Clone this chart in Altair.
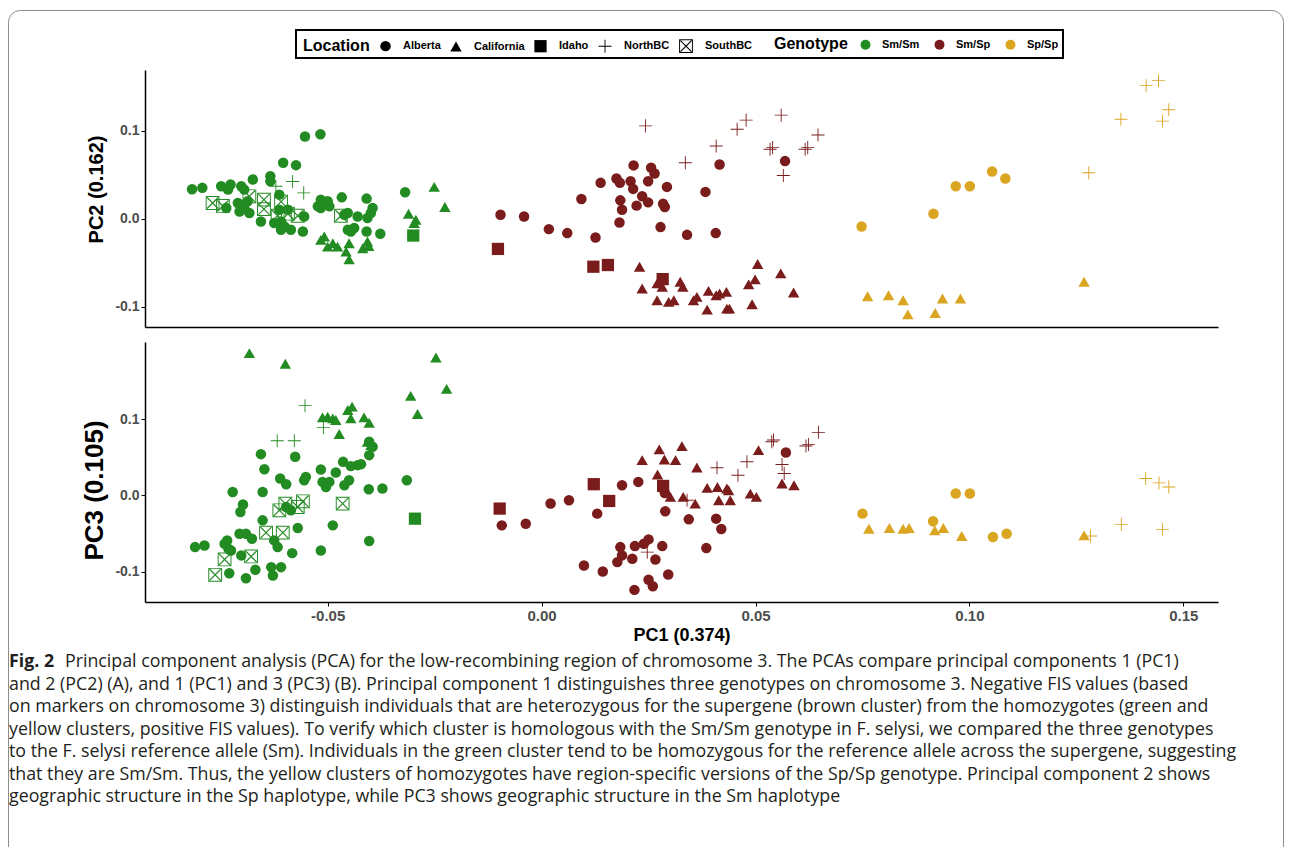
import altair as alt
import pandas as pd

# ---------------- categories ----------------
GENOTYPES = ["Sm/Sm", "Sm/Sp", "Sp/Sp"]
LOCATIONS = ["Alberta", "California", "Idaho", "NorthBC", "SouthBC"]

# ---------------- PC1 vs PC2 (panel A) ----------------
PC2_SMSM_ALBERTA = [(-0.0553, 0.0934), (-0.0517, 0.0960), (-0.0604, 0.0637), (-0.0574, 0.0609), (-0.0817, 0.0335),
                    (-0.0793, 0.0351), (-0.0675, 0.0446), (-0.0634, 0.0483), (-0.0634, 0.0426), (-0.0749, 0.0369),
                    (-0.0727, 0.0389), (-0.0702, 0.0369), (-0.0733, 0.0331), (-0.0695, 0.0331), (-0.0737, 0.0122),
                    (-0.0710, 0.0179), (-0.0687, 0.0198), (-0.0706, 0.0083), (-0.0683, 0.0065), (-0.0695, 0.0122),
                    (-0.0656, -0.0031), (-0.0625, -0.0049), (-0.0609, -0.0031), (-0.0601, -0.0088), (-0.0609, -0.0126),
                    (-0.0586, -0.0126), (-0.0613, 0.0274), (-0.0613, 0.0103), (-0.0593, 0.0103), (-0.0555, 0.0026),
                    (-0.0558, -0.0145), (-0.0516, 0.0217), (-0.0508, 0.0179), (-0.0500, 0.0198), (-0.0523, 0.0141),
                    (-0.0516, 0.0122), (-0.0496, 0.0141), (-0.0467, 0.0243), (-0.0461, 0.0046), (-0.0453, 0.0065),
                    (-0.0430, 0.0026), (-0.0409, 0.0229), (-0.0395, 0.0122), (-0.0399, 0.0065), (-0.0407, 0.0008),
                    (-0.0453, -0.0126), (-0.0438, -0.0106), (-0.0446, -0.0145), (-0.0409, -0.0145), (-0.0377, -0.0171),
                    (-0.0319, 0.0301)]
PC2_SMSM_CALIFORNIA = [(-0.0516, -0.0240), (-0.0508, -0.0202), (-0.0500, -0.0317), (-0.0488, -0.0278), (-0.0477, -0.0317),
                       (-0.0457, -0.0374), (-0.0450, -0.0278), (-0.0450, -0.0461), (-0.0418, -0.0335), (-0.0407, -0.0259),
                       (-0.0404, -0.0309), (-0.0251, 0.0362), (-0.0226, 0.0134), (-0.0311, 0.0057), (-0.0294, -0.0011),
                       (-0.0298, -0.0049)]
PC2_SMSM_IDAHO = [(-0.0300, -0.0191)]
PC2_SMSM_NORTHBC = [(-0.0621, 0.0369), (-0.0582, 0.0423), (-0.0556, 0.0294)]
PC2_SMSM_SOUTHBC = [(-0.0769, 0.0179), (-0.0745, 0.0145), (-0.0683, 0.0255), (-0.0649, 0.0217), (-0.0649, 0.0109),
                    (-0.0609, 0.0194), (-0.0617, 0.0034), (-0.0593, 0.0057), (-0.0570, 0.0034), (-0.0469, 0.0034)]

PC2_SMSP_ALBERTA = [(-0.0096, 0.0046), (-0.0041, 0.0026), (0.0017, -0.0118), (0.0060, -0.0163), (0.0126, -0.0214),
                    (0.0093, 0.0225), (0.0138, 0.0408), (0.0175, 0.0457), (0.0183, 0.0408), (0.0215, 0.0606),
                    (0.0208, 0.0426), (0.0214, 0.0339), (0.0184, 0.0209), (0.0188, 0.0103), (0.0182, -0.0042),
                    (0.0222, 0.0149), (0.0235, 0.0255), (0.0249, 0.0186), (0.0249, 0.0426), (0.0256, 0.0579),
                    (0.0264, 0.0514), (0.0293, 0.0362), (0.0284, 0.0171), (0.0288, 0.0134), (0.0278, -0.0095),
                    (0.0340, -0.0183), (0.0383, 0.0305), (0.0407, -0.0163), (0.0416, 0.0617), (0.0569, 0.0655)]
PC2_SMSP_CALIFORNIA = [(0.0229, -0.0545), (0.0235, -0.0792), (0.0270, -0.0735), (0.0282, -0.0773), (0.0270, -0.0926),
                       (0.0297, -0.0945), (0.0309, -0.0926), (0.0324, -0.0716), (0.0330, -0.0773), (0.0355, -0.0926),
                       (0.0363, -0.0888), (0.0387, -0.1032), (0.0390, -0.0819), (0.0408, -0.0869), (0.0416, -0.0849),
                       (0.0432, -0.0831), (0.0433, -0.1021), (0.0439, -0.1021), (0.0484, -0.0746), (0.0499, -0.0689),
                       (0.0505, -0.0514), (0.0492, -0.0971), (0.0559, -0.0621), (0.0589, -0.0838)]
PC2_SMSP_IDAHO = [(-0.0102, -0.0343), (0.0121, -0.0545), (0.0155, -0.0526), (0.0283, -0.0686)]
PC2_SMSP_NORTHBC = [(0.0243, 0.1055), (0.0336, 0.0637), (0.0408, 0.0826), (0.0457, 0.1017), (0.0478, 0.1120),
                    (0.0560, 0.1177), (0.0534, 0.0789), (0.0540, 0.0808), (0.0565, 0.0491), (0.0616, 0.0789),
                    (0.0622, 0.0808), (0.0646, 0.0952)]

PC2_SPSP_ALBERTA = [(0.0748, -0.0088), (0.0916, 0.0057), (0.0968, 0.0369), (0.1001, 0.0369), (0.1053, 0.0537),
                    (0.1084, 0.0457)]
PC2_SPSP_CALIFORNIA = [(0.0762, -0.0880), (0.0811, -0.0869), (0.0845, -0.0926), (0.0856, -0.1086), (0.0920, -0.1071),
                       (0.0937, -0.0906), (0.0979, -0.0906), (0.1268, -0.0716)]
PC2_SPSP_NORTHBC = [(0.1279, 0.0522), (0.1354, 0.1131), (0.1413, 0.1512), (0.1442, 0.1569), (0.1451, 0.1109),
                    (0.1466, 0.1238)]

# ---------------- PC1 vs PC3 (panel B) ----------------
PC3_SMSM_ALBERTA = [(-0.0810, -0.0680), (-0.0788, -0.0658), (-0.0741, -0.0636), (-0.0735, -0.0592), (-0.0732, -0.0701),
                    (-0.0726, -0.0724), (-0.0702, -0.0789), (-0.0730, -0.1022), (-0.0691, -0.1088), (-0.0669, -0.0978),
                    (-0.0632, -0.0943), (-0.0628, -0.1053), (-0.0609, -0.0943), (-0.0583, -0.0759), (-0.0706, -0.0504),
                    (-0.0691, -0.0504), (-0.0677, -0.0570), (-0.0652, -0.0329), (-0.0625, -0.0592), (-0.0617, -0.0680),
                    (-0.0698, -0.0122), (-0.0704, -0.0220), (-0.0722, 0.0043), (-0.0652, 0.0043), (-0.0656, 0.0539),
                    (-0.0648, 0.0342), (-0.0576, 0.0504), (-0.0611, 0.0220), (-0.0597, 0.0145), (-0.0555, 0.0197),
                    (-0.0551, 0.0241), (-0.0516, 0.0338), (-0.0481, 0.0299), (-0.0512, 0.0175), (-0.0504, 0.0109),
                    (-0.0496, 0.0175), (-0.0461, 0.0132), (-0.0450, 0.0197), (-0.0464, 0.0438), (-0.0446, 0.0382),
                    (-0.0430, 0.0395), (-0.0422, 0.0408), (-0.0403, 0.0526), (-0.0395, 0.0636), (-0.0403, 0.0701),
                    (-0.0404, 0.0079), (-0.0372, 0.0088), (-0.0315, 0.0197), (-0.0488, -0.0395), (-0.0570, -0.0430),
                    (-0.0403, -0.0601), (-0.0516, -0.0724), (-0.0586, -0.0197), (-0.0597, -0.0154)]
PC3_SMSM_CALIFORNIA = [(-0.0683, 0.1864), (-0.0599, 0.1724), (-0.0512, 0.1022), (-0.0500, 0.1030), (-0.0488, 0.1009),
                       (-0.0481, 0.0987), (-0.0453, 0.1118), (-0.0443, 0.1162), (-0.0446, 0.1009), (-0.0415, 0.1022),
                       (-0.0403, 0.0951), (-0.0473, 0.0803), (-0.0407, 0.0701), (-0.0399, 0.0658), (-0.0306, 0.1303),
                       (-0.0290, 0.1066), (-0.0247, 0.1807), (-0.0222, 0.1395)]
PC3_SMSM_IDAHO = [(-0.0296, -0.0307)]
PC3_SMSM_NORTHBC = [(-0.0553, 0.1175), (-0.0618, 0.0715), (-0.0578, 0.0715), (-0.0510, 0.0890)]
PC3_SMSM_SOUTHBC = [(-0.0558, -0.0079), (-0.0599, -0.0109), (-0.0613, -0.0197), (-0.0570, -0.0154), (-0.0465, -0.0109),
                    (-0.0644, -0.0491), (-0.0605, -0.0491), (-0.0741, -0.0842), (-0.0679, -0.0803), (-0.0763, -0.1043)]

PC3_SMSP_ALBERTA = [(-0.0093, -0.0395), (-0.0037, -0.0373), (0.0021, -0.0109), (0.0064, -0.0066), (0.0130, -0.0241),
                    (0.0188, 0.0132), (0.0226, 0.0175), (0.0289, -0.0211), (0.0344, -0.0316), (0.0408, -0.0307),
                    (0.0420, -0.0443), (0.0385, -0.0693), (0.0571, 0.0561), (0.0184, -0.0680), (0.0188, -0.0789),
                    (0.0177, -0.0877), (0.0212, -0.0833), (0.0218, -0.0667), (0.0239, -0.0636), (0.0250, -0.0579),
                    (0.0282, -0.0667), (0.0266, -0.0842), (0.0099, -0.0921), (0.0143, -0.1000), (0.0296, -0.1039),
                    (0.0250, -0.1109), (0.0260, -0.1193), (0.0217, -0.1241), (0.0288, 0.0030)]
PC3_SMSP_CALIFORNIA = [(0.0235, 0.0460), (0.0275, 0.0601), (0.0328, 0.0645), (0.0287, 0.0469), (0.0313, 0.0460),
                       (0.0271, 0.0272), (0.0363, 0.0364), (0.0301, -0.0022), (0.0331, -0.0022), (0.0359, -0.0109),
                       (0.0387, 0.0096), (0.0411, 0.0109), (0.0433, 0.0088), (0.0437, 0.0066), (0.0414, -0.0066),
                       (0.0441, -0.0066), (0.0488, 0.0022), (0.0502, -0.0022), (0.0507, 0.0592), (0.0562, 0.0154),
                       (0.0590, 0.0132)]
PC3_SMSP_IDAHO = [(-0.0098, -0.0175), (0.0122, 0.0145), (0.0158, -0.0075), (0.0284, 0.0122)]
PC3_SMSP_NORTHBC = [(0.0247, -0.0746), (0.0340, -0.0066), (0.0410, 0.0360), (0.0459, 0.0263), (0.0480, 0.0439),
                    (0.0538, 0.0701), (0.0542, 0.0724), (0.0562, 0.0404), (0.0567, 0.0285), (0.0618, 0.0645),
                    (0.0624, 0.0667), (0.0647, 0.0825)]

PC3_SPSP_ALBERTA = [(0.0750, -0.0241), (0.0915, -0.0342), (0.0968, 0.0022), (0.1001, 0.0022), (0.1055, -0.0548),
                    (0.1087, -0.0504)]
PC3_SPSP_CALIFORNIA = [(0.0765, -0.0439), (0.0813, -0.0430), (0.0845, -0.0439), (0.0859, -0.0430), (0.0919, -0.0461),
                       (0.0939, -0.0430), (0.0982, -0.0535), (0.1268, -0.0526)]
PC3_SPSP_NORTHBC = [(0.1283, -0.0535), (0.1355, -0.0382), (0.1412, 0.0220), (0.1443, 0.0162), (0.1466, 0.0109),
                    (0.1451, -0.0447)]

# ---------------- text ----------------
X_TICKS = [-0.05, 0.0, 0.05, 0.10, 0.15]
Y_TICKS = [-0.1, 0.0, 0.1]
CAPTION_LEAD = "Fig. 2"
CAPTION_FIRST = "Principal component analysis (PCA) for the low-recombining region of chromosome 3. The PCAs compare principal components 1 (PC1)"
CAPTION_REST = [
    "and 2 (PC2) (A), and 1 (PC1) and 3 (PC3) (B). Principal component 1 distinguishes three genotypes on chromosome 3. Negative FIS values (based",
    "on markers on chromosome 3) distinguish individuals that are heterozygous for the supergene (brown cluster) from the homozygotes (green and",
    "yellow clusters, positive FIS values). To verify which cluster is homologous with the Sm/Sm genotype in F. selysi, we compared the three genotypes",
    "to the F. selysi reference allele (Sm). Individuals in the green cluster tend to be homozygous for the reference allele across the supergene, suggesting",
    "that they are Sm/Sm. Thus, the yellow clusters of homozygotes have region-specific versions of the Sp/Sp genotype. Principal component 2 shows",
    "geographic structure in the Sp haplotype, while PC3 shows geographic structure in the Sm haplotype",
]

# ---------------- styles ----------------
FONT = "Liberation Sans"
CAP_FONT = "Open Sans"
GENO_COLORS = ["#228B22", "#7A1C1C", "#DAA520"]
PLUS = "M-1,-0.07L1,-0.07L1,0.07L-1,0.07Z M-0.07,-1L0.07,-1L0.07,1L-0.07,1Z"
BOXX = ("M-1,-1L1,-1L1,1L-1,1Z M-0.86,-0.86L-0.86,0.86L0.86,0.86L0.86,-0.86Z "
        "M-0.86,-0.74L-0.74,-0.86L0.86,0.74L0.74,0.86Z M0.74,-0.86L0.86,-0.74L-0.74,0.86L-0.86,0.74Z")
SHAPES = ["circle", "triangle-up", "square", PLUS, BOXX]
SIZES = [110, 190, 115, 230, 115]
MINUS_FIX = "replace(datum.label, '\u2212', '-')"

X_DOMAIN = [-0.0927, 0.1581]
PC2_DOMAIN = [-0.123, 0.169]
PC3_DOMAIN = [-0.140, 0.201]
W = 1073


def to_frame(groups, col):
    rows = []
    for geno, loc, pts in groups:
        for x, y in pts:
            rows.append({"PC1": x, col: y, "Genotype": geno, "Location": loc})
    return pd.DataFrame(rows)


pc2_df = to_frame([
    ("Sm/Sm", "Alberta", PC2_SMSM_ALBERTA), ("Sm/Sm", "California", PC2_SMSM_CALIFORNIA),
    ("Sm/Sm", "Idaho", PC2_SMSM_IDAHO), ("Sm/Sm", "SouthBC", PC2_SMSM_SOUTHBC), ("Sm/Sm", "NorthBC", PC2_SMSM_NORTHBC),
    ("Sm/Sp", "Alberta", PC2_SMSP_ALBERTA), ("Sm/Sp", "California", PC2_SMSP_CALIFORNIA),
    ("Sm/Sp", "Idaho", PC2_SMSP_IDAHO), ("Sm/Sp", "NorthBC", PC2_SMSP_NORTHBC),
    ("Sp/Sp", "Alberta", PC2_SPSP_ALBERTA), ("Sp/Sp", "California", PC2_SPSP_CALIFORNIA),
    ("Sp/Sp", "NorthBC", PC2_SPSP_NORTHBC),
], "PC2")
pc3_df = to_frame([
    ("Sm/Sm", "Alberta", PC3_SMSM_ALBERTA), ("Sm/Sm", "California", PC3_SMSM_CALIFORNIA),
    ("Sm/Sm", "Idaho", PC3_SMSM_IDAHO), ("Sm/Sm", "SouthBC", PC3_SMSM_SOUTHBC), ("Sm/Sm", "NorthBC", PC3_SMSM_NORTHBC),
    ("Sm/Sp", "Alberta", PC3_SMSP_ALBERTA), ("Sm/Sp", "California", PC3_SMSP_CALIFORNIA),
    ("Sm/Sp", "Idaho", PC3_SMSP_IDAHO), ("Sm/Sp", "NorthBC", PC3_SMSP_NORTHBC),
    ("Sp/Sp", "Alberta", PC3_SPSP_ALBERTA), ("Sp/Sp", "California", PC3_SPSP_CALIFORNIA),
    ("Sp/Sp", "NorthBC", PC3_SPSP_NORTHBC),
], "PC3")

color_enc = alt.Color(
    "Genotype:N", scale=alt.Scale(domain=GENOTYPES, range=GENO_COLORS),
    legend=alt.Legend(title="Genotype", orient="none", legendX=629, legendY=-31, direction="horizontal",
                      titleOrient="left", titleFont=FONT, titleFontSize=16, titleFontWeight="bold",
                      titleColor="black", titlePadding=12, labelFont=FONT, labelFontSize=11,
                      labelFontWeight="bold", labelColor="black", labelOffset=11, columnPadding=14,
                      symbolType="circle", symbolSize=100, symbolStrokeWidth=0, padding=0))
location_legend = alt.Legend(title="Location", orient="none", legendX=158, legendY=-31, direction="horizontal",
                             titleOrient="left", titleFont=FONT, titleFontSize=16, titleFontWeight="bold",
                             titleColor="black", titlePadding=10, labelFont=FONT, labelFontSize=11,
                             labelFontWeight="bold", labelColor="black", labelOffset=12, columnPadding=9,
                             symbolFillColor="black", symbolStrokeWidth=0, padding=0)
shape_enc = alt.Shape("Location:N", scale=alt.Scale(domain=LOCATIONS, range=SHAPES), legend=location_legend)
size_enc = alt.Size("Location:N", scale=alt.Scale(domain=LOCATIONS, range=SIZES), legend=location_legend)

y_axis_common = dict(values=Y_TICKS, format=".1f", labelExpr=MINUS_FIX, labelFont=FONT, labelFontSize=14,
                     labelFontWeight="bold", labelColor="#4D4D4D", tickSize=4, tickColor="black", tickWidth=1,
                     labelPadding=2, domainColor="black", domainWidth=1.5, grid=False, titleFont=FONT,
                     titleFontWeight="bold", titleColor="black", titleAngle=-90, titleAlign="center",
                     titleBaseline="middle")

one = pd.DataFrame({"k": [0]})
frame = alt.Chart(one).mark_rect(fill="white", fillOpacity=0, stroke="#8C8C8C", strokeWidth=1,
                                 cornerRadius=12).encode(
    x=alt.value(-136.5), x2=alt.value(1138.5), y=alt.value(-59.5), y2=alt.value(900))
legend_box = alt.Chart(one).mark_rect(fill="white", fillOpacity=0, stroke="black", strokeWidth=2).encode(
    x=alt.value(151), x2=alt.value(918), y=alt.value(-40), y2=alt.value(-12))

top_points = alt.Chart(pc2_df).mark_point(filled=True, opacity=1, strokeWidth=0).encode(
    x=alt.X("PC1:Q", scale=alt.Scale(domain=X_DOMAIN, nice=False, zero=False),
            axis=alt.Axis(title=None, labels=False, ticks=False, domain=True, domainColor="black",
                          domainWidth=1.5, grid=False)),
    y=alt.Y("PC2:Q", scale=alt.Scale(domain=PC2_DOMAIN, nice=False, zero=False),
            axis=alt.Axis(title="PC2 (0.162)", titleFontSize=20, titleX=-49, titleY=119, **y_axis_common)),
    color=color_enc, shape=shape_enc, size=size_enc,
)
top = alt.layer(frame, legend_box, top_points).properties(width=W, height=257)

bottom = alt.Chart(pc3_df).mark_point(filled=True, opacity=1, strokeWidth=0).encode(
    x=alt.X("PC1:Q", scale=alt.Scale(domain=X_DOMAIN, nice=False, zero=False),
            axis=alt.Axis(values=X_TICKS, format=".2f", labelExpr=MINUS_FIX, title="PC1 (0.374)", labelFont=FONT,
                          labelFontSize=15, labelFontWeight="bold", labelColor="#4D4D4D", tickSize=4,
                          tickColor="black", labelPadding=2, domainColor="black", domainWidth=1.5, grid=False,
                          titleFont=FONT, titleFontSize=18, titleFontWeight="bold", titleColor="black",
                          titlePadding=3)),
    y=alt.Y("PC3:Q", scale=alt.Scale(domain=PC3_DOMAIN, nice=False, zero=False),
            axis=alt.Axis(title="PC3 (0.105)", titleFontSize=26, titleX=-51, titleY=148, **y_axis_common)),
    color=color_enc, shape=shape_enc, size=size_enc,
).properties(width=W, height=260)

first_df = pd.DataFrame({"line": [0], "text": [CAPTION_FIRST]})
rest_df = pd.DataFrame({"line": list(range(1, len(CAPTION_REST) + 1)), "text": CAPTION_REST})
lead_df = pd.DataFrame({"line": [0], "text": [CAPTION_LEAD]})
cap_y = alt.Y("line:Q", scale=alt.Scale(domain=[-2.0, 7.0], reverse=True, nice=False, zero=False), axis=None)
cap_style = dict(align="left", baseline="middle", font=CAP_FONT, fontSize=17.8, color="#231F20")
cap_first = alt.Chart(first_df).mark_text(**cap_style).encode(y=cap_y, x=alt.value(-80), text="text:N")
cap_rest = alt.Chart(rest_df).mark_text(**cap_style).encode(y=cap_y, x=alt.value(-136), text="text:N")
cap_lead = alt.Chart(lead_df).mark_text(align="left", baseline="middle", font=CAP_FONT, fontSize=17.8,
                                        fontWeight="bold", color="#231F20").encode(
    y=cap_y, x=alt.value(-136), text="text:N")
caption = alt.layer(cap_first, cap_rest, cap_lead).properties(width=W, height=202.5)

chart = alt.vconcat(top, bottom, caption, spacing=15, bounds="flush").properties(
    padding={"left": 0, "top": 2, "right": 0, "bottom": 0}
).configure_view(stroke=None)

chart.save("out.html", embed_options={"renderer": "svg", "actions": False})
